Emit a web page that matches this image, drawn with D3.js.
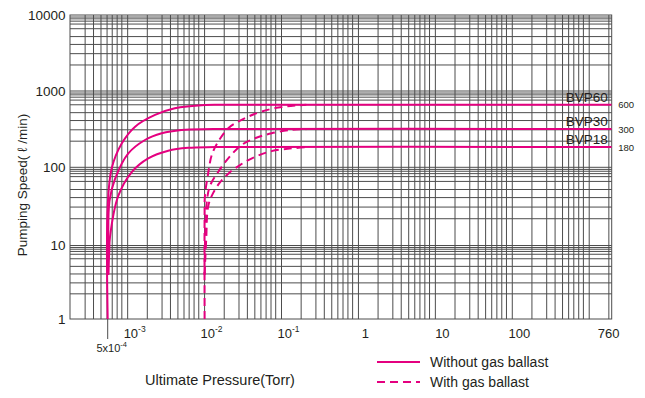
<!DOCTYPE html>
<html>
<head>
<meta charset="utf-8">
<script src="https://cdn.jsdelivr.net/npm/d3@7"></script>
<style>
  body { margin: 0; background: #fff; }
  text { font-family: "Liberation Sans", Arial, Helvetica, sans-serif; fill: #231f20; }
</style>
</head>
<body>
<div id="chart"></div>
<script>
// Pump models, printed speed labels and the level each curve flattens at
var models = ["BVP60", "BVP30", "BVP18"];
var speedLabels = ["600", "300", "180"];
var plateauSpeed = [660, 317, 184];

// Without gas ballast (solid): pressure (Torr) / speed (l/min)
var bvp60SolidP = [5.5e-4, 5.5e-4, 6.2e-4, 8.4e-4, 1.25e-3, 2.27e-3, 4.1e-3, 1.0e-2, 2.0e-2, 1960];
var bvp60SolidS = [1, 32, 97, 206, 341, 486, 594, 656, 660, 660];
var bvp30SolidP = [5.6e-4, 5.6e-4, 5.8e-4, 6.85e-4, 1.02e-3, 1.68e-3, 2.77e-3, 5.0e-3, 1.3e-2, 1960];
var bvp30SolidS = [4, 11, 37, 71, 152, 228, 279, 309, 317, 317];
var bvp18SolidP = [5.6e-4, 5.75e-4, 5.9e-4, 7.55e-4, 1.13e-3, 1.85e-3, 3.37e-3, 6.1e-3, 1.4e-2, 1960];
var bvp18SolidS = [4, 8, 13, 43, 87, 131, 165, 180, 184, 184];

// With gas ballast (dashed), each ends where it meets its solid line
var bvp60DashP = [1e-2, 1e-2, 1.01e-2, 1.12e-2, 1.24e-2, 1.5e-2, 2.03e-2, 2.74e-2, 3.7e-2, 5.5e-2, 9.1e-2, 0.15, 0.21];
var bvp60DashS = [1, 25, 43, 87, 145, 216, 325, 397, 462, 538, 607, 645, 658];
var bvp30DashP = [1e-2, 1.02e-2, 1.064e-2, 1.175e-2, 1.5e-2, 2.03e-2, 3.03e-2, 4.52e-2, 7.45e-2, 0.135, 0.21];
var bvp30DashS = [4, 15, 35, 58, 87, 131, 196, 240, 279, 309, 316];
var bvp18DashP = [1e-2, 1.05e-2, 1.116e-2, 1.3e-2, 1.585e-2, 2.03e-2, 2.88e-2, 4.52e-2, 7.45e-2, 0.135, 0.21];
var bvp18DashS = [4, 12, 32, 47.5, 64, 83, 107, 137, 163, 177, 183];

// Axis ticks
var xTickValues = [1e-3, 1e-2, 1e-1, 1, 10, 100];
var xTickBase = ["10", "10", "10", "1", "10", "100"];
var xTickExp = ["-3", "-2", "-1", "", "", ""];
var xEndLabel = "760";
var ultimateValue = 5.5e-4;
var ultimateBase = "5x10";
var ultimateExp = "-4";
var yTickValues = [1, 10, 100, 1000, 10000];
var yTickLabels = ["1", "10", "100", "1000", "10000"];

// Printed grid subdivisions inside each decade
var xMinor = [1, 1.8, 2.8, 3.6, 4.5, 5.4, 6.3, 7.3, 8.4];
var yMinor = [1, 2.2, 3.1, 4.1, 5.2, 6.6, 7.6, 8.3, 8.9, 9.4];

var pink = "#e4007f";
var gridColor = "#4d4d4d";

var svgWidth = 645;
var svgHeight = 398;

var svg = d3.select("#chart")
    .append("svg")
    .attr("width", svgWidth)
    .attr("height", svgHeight);

// Step 1: scales
// ==============================
var x = d3.scaleLog()
    .domain([1.78e-4, 1960])
    .range([70, 611.7]);

var y = d3.scaleLog()
    .domain([1, 10, 100, 1000, 10000])
    .range([319, 245.5, 167.3, 91, 15]);

var plotLeft = x.range()[0], plotRight = x.range()[1];
var plotTop = y(10000), plotBottom = y(1);

// Step 2: grid
// ==============================
var gridG = svg.append("g")
    .attr("stroke", gridColor)
    .attr("stroke-width", 1)
    .attr("fill", "none");

var xGrid = [];
d3.range(-4, 4).forEach(function (d) {
    xMinor.forEach(function (m) {
        var px = x(m * Math.pow(10, d));
        if (px > plotLeft + 1 && px < plotRight - 1) xGrid.push(px);
    });
});

var yGrid = [];
d3.range(0, 4).forEach(function (d) {
    yMinor.forEach(function (m) {
        var py = y(m * Math.pow(10, d));
        if (py < plotBottom - 1 && py > plotTop + 1) yGrid.push(py);
    });
});

gridG.selectAll("line.gx")
    .data(xGrid)
    .enter()
    .append("line")
    .attr("class", "gx")
    .attr("x1", d => d).attr("x2", d => d)
    .attr("y1", plotTop).attr("y2", plotBottom);

gridG.selectAll("line.gy")
    .data(yGrid)
    .enter()
    .append("line")
    .attr("class", "gy")
    .attr("x1", plotLeft).attr("x2", plotRight)
    .attr("y1", d => d).attr("y2", d => d);

gridG.append("rect")
    .attr("x", plotLeft).attr("y", plotTop)
    .attr("width", plotRight - plotLeft)
    .attr("height", plotBottom - plotTop);

// tick below the plot for the ultimate pressure
svg.append("line")
    .attr("x1", x(ultimateValue)).attr("x2", x(ultimateValue))
    .attr("y1", plotBottom).attr("y2", plotBottom + 20)
    .attr("stroke", gridColor);

// Step 3: axis labels
// ==============================
svg.selectAll("text.ytick")
    .data(yTickValues)
    .enter()
    .append("text")
    .attr("class", "ytick")
    .attr("x", plotLeft - 4.5)
    .attr("y", d => y(d))
    .attr("dy", "0.36em")
    .attr("text-anchor", "end")
    .attr("font-size", "13.5px")
    .text((d, i) => yTickLabels[i]);

var xt = svg.selectAll("text.xtick")
    .data(xTickValues)
    .enter()
    .append("text")
    .attr("class", "xtick")
    .attr("x", d => x(d) + 7)
    .attr("y", 337.5)
    .attr("text-anchor", "middle")
    .attr("font-size", "13px");
xt.append("tspan").text((d, i) => xTickBase[i]);
xt.append("tspan")
    .attr("dy", -6)
    .attr("font-size", "8.5px")
    .text((d, i) => xTickExp[i]);

svg.append("text")
    .attr("x", plotRight - 3)
    .attr("y", 337.5)
    .attr("text-anchor", "middle")
    .attr("font-size", "13px")
    .text(xEndLabel);

var ut = svg.append("text")
    .attr("x", x(ultimateValue) + 4)
    .attr("y", 352)
    .attr("text-anchor", "middle")
    .attr("font-size", "11px");
ut.append("tspan").text(ultimateBase);
ut.append("tspan").attr("dy", -5).attr("font-size", "7.5px").text(ultimateExp);

svg.append("text")
    .attr("x", 220)
    .attr("y", 384.5)
    .attr("text-anchor", "middle")
    .attr("font-size", "14.5px")
    .text("Ultimate Pressure(Torr)");

svg.append("text")
    .attr("transform", "translate(27, 185) rotate(-90)")
    .attr("text-anchor", "middle")
    .attr("font-size", "13.5px")
    .text("Pumping Speed( \u2113 /min)");

// Step 4: curves
// ==============================
svg.append("clipPath")
    .attr("id", "plotClip")
    .append("rect")
    .attr("x", plotLeft).attr("y", plotTop)
    .attr("width", plotRight - plotLeft)
    .attr("height", plotBottom - plotTop);

var line = d3.line()
    .x(d => x(d[0]))
    .y(d => y(d[1]))
    .curve(d3.curveCatmullRom.alpha(0.5));

var dashed = [d3.zip(bvp60DashP, bvp60DashS), d3.zip(bvp30DashP, bvp30DashS), d3.zip(bvp18DashP, bvp18DashS)];
var solid = [d3.zip(bvp60SolidP, bvp60SolidS), d3.zip(bvp30SolidP, bvp30SolidS), d3.zip(bvp18SolidP, bvp18SolidS)];

var curveG = svg.append("g").attr("clip-path", "url(#plotClip)");

curveG.selectAll("path.dash")
    .data(dashed)
    .enter()
    .append("path")
    .attr("class", "dash")
    .attr("d", line)
    .attr("fill", "none")
    .attr("stroke", pink)
    .attr("stroke-width", 2)
    .attr("stroke-dasharray", "8,5");

curveG.selectAll("path.solid")
    .data(solid)
    .enter()
    .append("path")
    .attr("class", "solid")
    .attr("d", line)
    .attr("fill", "none")
    .attr("stroke", pink)
    .attr("stroke-width", 2);

// Step 5: model names and speed labels
// ==============================
svg.selectAll("text.model")
    .data(models)
    .enter()
    .append("text")
    .attr("class", "model")
    .attr("x", plotRight - 4)
    .attr("y", (d, i) => y(plateauSpeed[i]) - 3)
    .attr("text-anchor", "end")
    .attr("font-size", "13.5px")
    .text(d => d);

svg.selectAll("text.speed")
    .data(speedLabels)
    .enter()
    .append("text")
    .attr("class", "speed")
    .attr("x", plotRight + 6.5)
    .attr("y", (d, i) => y(plateauSpeed[i]) + 3.5)
    .attr("font-size", "9.5px")
    .text(d => d);

// Step 6: legend
// ==============================
var legend = [
    { label: "Without gas ballast", dash: null, y: 362 },
    { label: "With gas ballast", dash: "8,5", y: 382 }
];

var lg = svg.selectAll("g.legend")
    .data(legend)
    .enter()
    .append("g")
    .attr("class", "legend");

lg.append("line")
    .attr("x1", 377).attr("x2", 420)
    .attr("y1", d => d.y).attr("y2", d => d.y)
    .attr("stroke", pink)
    .attr("stroke-width", 2)
    .attr("stroke-dasharray", d => d.dash);

lg.append("text")
    .attr("x", 430)
    .attr("y", d => d.y + 5)
    .attr("font-size", "14px")
    .text(d => d.label);
</script>
</body>
</html>
